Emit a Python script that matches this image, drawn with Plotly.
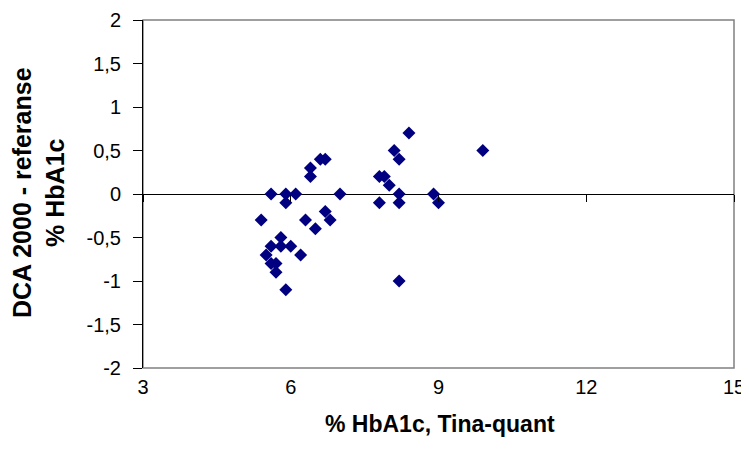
import plotly.graph_objects as go

# %HbA1c, Tina-quant
x_vals = [6.6, 6.7, 6.4, 6.4, 5.6, 5.9, 6.1, 5.9, 7.0, 5.4, 6.3, 6.5, 6.7, 6.8,
          5.8, 5.6, 5.8, 6.0, 5.5, 6.2, 5.6, 5.7, 5.7, 5.9,
          8.4, 8.1, 8.2, 7.8, 7.9, 8.0, 8.2, 8.2, 7.8, 8.9, 9.0, 8.2, 9.9]
# DCA 2000 - referanse
y_vals = [0.4, 0.4, 0.3, 0.2, 0.0, 0.0, 0.0, -0.1, 0.0, -0.3, -0.3, -0.4, -0.2, -0.3,
          -0.5, -0.6, -0.6, -0.6, -0.7, -0.7, -0.8, -0.8, -0.9, -1.1,
          0.7, 0.5, 0.4, 0.2, 0.2, 0.1, 0.0, -0.1, -0.1, 0.0, -0.1, -1.0, 0.5]

x_ticks = [3, 6, 9, 12, 15]
x_ticktext = ["3", "6", "9", "12", "15"]
y_ticks = [-2, -1.5, -1, -0.5, 0, 0.5, 1, 1.5, 2]
y_ticktext = ["-2", "-1,5", "-1", "-0,5", "0", "0,5", "1", "1,5", "2"]

# page body has an 8px margin; work in screen pixels and shift
OFF = 8
W, H = 749 - OFF, 461 - OFF
PL, PR, PT, PB = 143, 734, 20, 368          # plot area in screen px
L, T = PL - OFF, PT - OFF
R, B = W - (PR - OFF), H - (PB - OFF)

def px_x(sx):
    return (sx - PL) / (PR - PL)

def px_y(sy):
    return (PB - sy) / (PB - PT)

fig = go.Figure()
fig.add_trace(go.Scatter(
    x=x_vals, y=y_vals, mode="markers",
    marker=dict(symbol="diamond", size=10, color="#000080", line=dict(width=0)),
    showlegend=False, hoverinfo="x+y"))
# helper trace so the tick-mark axis on the zero line is drawn
fig.add_trace(go.Scatter(x=[3], y=[-10], xaxis="x2", mode="markers",
                         marker=dict(size=1, opacity=0), showlegend=False,
                         hoverinfo="skip"))

font_tick = dict(family="Arial, Liberation Sans, sans-serif", size=20, color="black")

fig.update_layout(
    width=W, height=H, autosize=False,
    margin=dict(l=L, r=R, t=T, b=B, pad=0, autoexpand=False),
    paper_bgcolor="white", plot_bgcolor="white",
    xaxis=dict(range=[3, 15], tickvals=x_ticks, ticktext=x_ticktext,
               showgrid=False, zeroline=False, showline=False, ticks="",
               tickfont=font_tick, ticklabelstandoff=5, automargin=False),
    xaxis2=dict(range=[3, 15], overlaying="x", anchor="free", position=0.5,
                side="bottom", tickvals=x_ticks, showticklabels=False,
                ticks="outside", ticklen=7, tickwidth=1, tickcolor="black",
                showgrid=False, zeroline=False, showline=False, automargin=False),
    yaxis=dict(range=[-2, 2], tickvals=y_ticks, ticktext=y_ticktext,
               showgrid=False, showline=True, linecolor="black", linewidth=1,
               ticks="outside", ticklen=9, tickwidth=1, tickcolor="black",
               zeroline=True, zerolinecolor="black", zerolinewidth=1,
               tickfont=font_tick, ticklabelstandoff=8, automargin=False),
    shapes=[dict(type="rect", xref="paper", yref="paper", x0=0, x1=1, y0=0, y1=1,
                 line=dict(color="#808080", width=1.5), layer="below")],
    annotations=[
        dict(text="DCA 2000 - referanse<br>% HbA1c", textangle=-90,
             xref="paper", yref="paper", x=px_x(38), y=px_y(193),
             xanchor="center", yanchor="middle", showarrow=False,
             font=dict(family="Arial, Liberation Sans, sans-serif", size=25,
                       color="black", weight="bold")),
        dict(text="% HbA1c, Tina-quant",
             xref="paper", yref="paper", x=px_x(440), y=px_y(424),
             xanchor="center", yanchor="middle", showarrow=False,
             font=dict(family="Arial, Liberation Sans, sans-serif", size=23,
                       color="black", weight="bold")),
    ],
)

fig.write_html("out.html")
